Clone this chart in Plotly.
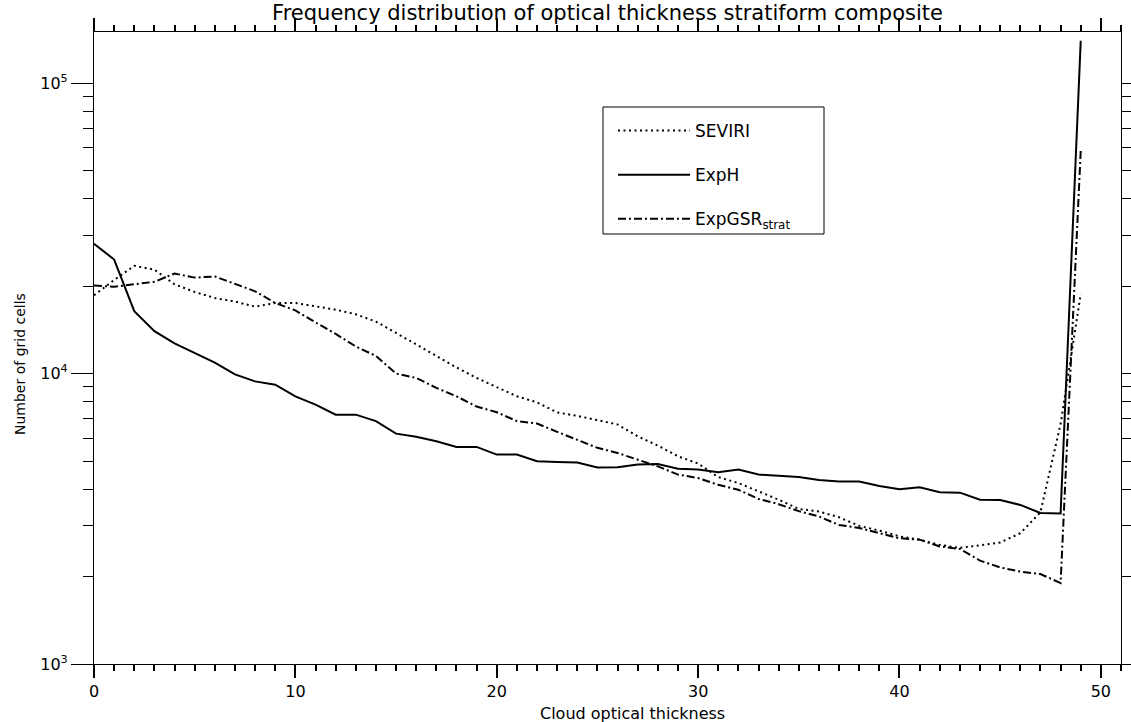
import plotly.graph_objects as go
import math

# ---- data ----
optical_thickness = list(range(0, 50))

seviri = [18600, 21000, 23500, 22800, 20300, 19100, 18200, 17700, 17000, 17500,
          17500, 17000, 16600, 16000, 15100, 13800, 12600, 11500, 10500, 9660,
          9000, 8350, 7960, 7350, 7150, 6900, 6680, 6080, 5650, 5190,
          4900, 4400, 4200, 3930, 3680, 3420, 3350, 3200, 2990, 2880,
          2750, 2680, 2570, 2510, 2570, 2620, 2820, 3330, 6700, 18800]

exph = [28000, 24700, 16400, 14000, 12700, 11800, 10900, 9930, 9400, 9160,
        8350, 7820, 7220, 7220, 6860, 6210, 6060, 5850, 5590, 5590,
        5260, 5260, 4990, 4960, 4940, 4750, 4760, 4860, 4880, 4700,
        4670, 4570, 4670, 4490, 4450, 4400, 4300, 4250, 4250, 4100,
        4000, 4060, 3900, 3890, 3680, 3670, 3530, 3310, 3300, 140000]

expgsr_strat = [20100, 19900, 20300, 20700, 22100, 21400, 21600, 20400, 19200, 17500,
                16500, 15000, 13700, 12400, 11500, 10000, 9660, 8930, 8350, 7700,
                7360, 6860, 6730, 6300, 5900, 5550, 5330, 5050, 4790, 4490,
                4370, 4140, 3980, 3700, 3550, 3360, 3220, 3010, 2940, 2820,
                2710, 2680, 2540, 2490, 2270, 2150, 2080, 2040, 1900, 58500]

x_major_step = 10
x_minor_step = 1
y_major_ticks = [1e3, 1e4, 1e5]
y_tick_labels = ["10<sup>3</sup>", "10<sup>4</sup>", "10<sup>5</sup>"]

FONT = "DejaVu Sans"

# plot-area geometry (pixels)
L, R, T, B = 94, 1121, 32, 664
W, H = 1131, 722

fig = go.Figure()
fig.add_trace(go.Scatter(x=optical_thickness, y=seviri, mode="lines", name="SEVIRI",
                         legendgroup="a",
                         line=dict(color="black", width=2, dash="2px,3.5px")))
fig.add_trace(go.Scatter(x=optical_thickness, y=exph, mode="lines", name="ExpH",
                         legendgroup="b",
                         line=dict(color="black", width=2)))
fig.add_trace(go.Scatter(x=optical_thickness, y=expgsr_strat, mode="lines",
                         name="ExpGSR<sub>strat</sub>", legendgroup="c",
                         line=dict(color="black", width=2, dash="8px,3px,2px,3px")))

y_minor = [m * 10 ** e for e in (3, 4) for m in range(2, 10)]

def px_x(p):
    return (p - L) / (R - L)

def px_y(p):
    return (B - p) / (B - T)

fig.update_layout(
    template="none",
    width=W, height=H,
    margin=dict(l=L, r=W - R, t=T, b=H - B),
    paper_bgcolor="white", plot_bgcolor="white",
    font=dict(family=FONT, color="black", size=14),
    title=dict(text="Frequency distribution of optical thickness stratiform composite",
               x=(L + R) / 2 / W, xanchor="center", y=1 - 13 / H, yanchor="middle",
               font=dict(size=21, family=FONT, color="black")),
    showlegend=True,
    legend=dict(x=px_x(613), y=px_y(113), xanchor="left", yanchor="top",
                bgcolor="rgba(0,0,0,0)", borderwidth=0,
                font=dict(size=17, family=FONT, color="black"),
                tracegroupgap=19, itemwidth=72),
    xaxis=dict(range=[0, 51], tickmode="linear", tick0=0, dtick=x_major_step,
               ticks="outside", ticklen=13,
               tickwidth=1.5, tickcolor="black", showline=True, linecolor="black",
               linewidth=1.2, mirror="ticks", showgrid=False, zeroline=False,
               automargin=False, tickfont=dict(size=16),
               minor=dict(dtick=x_minor_step, ticks="outside", ticklen=6,
                          tickwidth=1.5, tickcolor="black", showgrid=False)),
    yaxis=dict(type="log", range=[3, math.log10(1.5e5)], tickvals=y_major_ticks,
               ticktext=y_tick_labels, ticks="outside", ticklen=22, tickwidth=1.2,
               tickcolor="black", showline=True, linecolor="black", linewidth=1.2,
               mirror="ticks", showgrid=False, zeroline=False, automargin=False,
               tickfont=dict(size=16),
               minor=dict(tickvals=y_minor, ticks="outside", ticklen=10, tickwidth=1.2,
                          tickcolor="black", showgrid=False)),
    shapes=[dict(type="rect", xref="paper", yref="paper",
                 x0=px_x(603), x1=px_x(824), y0=px_y(234), y1=px_y(107),
                 line=dict(color="black", width=1), fillcolor="rgba(0,0,0,0)")],
    annotations=[
        dict(text="Cloud optical thickness", xref="paper", yref="paper",
             x=px_x(632), y=px_y(713), xanchor="center", yanchor="middle",
             showarrow=False, font=dict(size=16, family=FONT, color="black")),
        dict(text="Number of grid cells", xref="paper", yref="paper",
             x=px_x(20), y=px_y(364), xanchor="center", yanchor="middle",
             textangle=-90, showarrow=False,
             font=dict(size=14, family=FONT, color="black")),
    ],
)

fig.write_html("out.html")
